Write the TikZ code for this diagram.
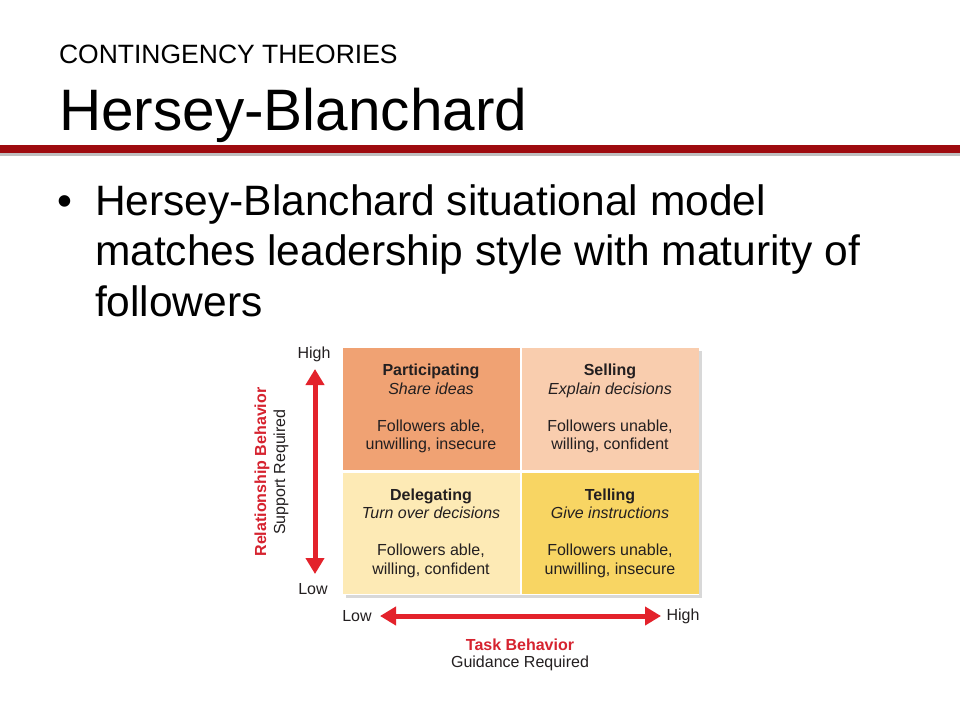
\documentclass[tikz,border=0pt]{standalone}
\usepackage{fontspec}
\setmainfont{Liberation Sans}
\usetikzlibrary{arrows.meta,shadows}
\definecolor{barred}{HTML}{9E0B0F}
\definecolor{arrowred}{HTML}{E3222B}
\definecolor{labred}{HTML}{D6232F}
\definecolor{cPart}{HTML}{F0A273}
\definecolor{cSell}{HTML}{F9CDAE}
\definecolor{cDele}{HTML}{FDEAB5}
\definecolor{cTell}{HTML}{F8D563}
\definecolor{txt}{HTML}{231F20}
\begin{document}
\begin{tikzpicture}[x=1pt,y=-1pt,
  plain/.style={inner sep=0pt,outer sep=0pt,text=black},
  cell/.style={inner sep=0pt,outer sep=0pt,draw=none,minimum width=177pt,minimum height=121.5pt,
     align=center,text=txt,font=\fontsize{16}{18.5}\selectfont},
  axlab/.style={inner sep=0pt,text=txt,font=\fontsize{16}{18}\selectfont},
  redlab/.style={inner sep=0pt,text=labred,font=\fontsize{16}{18}\selectfont\bfseries},
  bigarrow/.style={draw=arrowred,line width=5pt,{Triangle[width=18pt,length=16pt]}-{Triangle[width=18pt,length=16pt]}}]
\useasboundingbox (0,0) rectangle (960,720);
\fill[white] (0,0) rectangle (960,720);
% header
\node[plain,anchor=base west,font=\fontsize{26.5}{30}\selectfont] (cat) at (59,63) {CONTINGENCY THEORIES};
\node[plain,anchor=base west,font=\fontsize{58.5}{64}\selectfont] (title) at (59,130) {Hersey-Blanchard};
\fill[black!25] (0,153) rectangle (960,155.5);
\fill[barred] (0,144.5) rectangle (960,153);
% bullet
\node[plain,anchor=base west,font=\fontsize{42.5}{50.5}\selectfont] (bul) at (57,215) {•};
\node[plain,anchor=base west,align=left,font=\fontsize{42.5}{50.5}\selectfont] (btext) at (95,316)
  {Hersey-Blanchard situational model\\matches leadership style with maturity of\\followers};
% grid background with shadow
\node[inner sep=0pt,outer sep=0pt,minimum width=356pt,minimum height=247pt,fill=white,
  drop shadow={shadow xshift=3pt,shadow yshift=-3pt,opacity=0.3}] (grid) at (521,471.5) {};
\node[cell,fill=cPart] (part) at (431,408.75)
  {\textbf{Participating}\\\textit{Share ideas}\\[18.5pt]Followers able,\\unwilling, insecure};
\node[cell,fill=cSell] (sell) at (610,408.75)
  {\textbf{Selling}\\\textit{Explain decisions}\\[18.5pt]Followers unable,\\willing, confident};
\node[cell,fill=cDele] (dele) at (431,533.25)
  {\textbf{Delegating}\\\textit{Turn over decisions}\\[18.5pt]Followers able,\\willing, confident};
\node[cell,fill=cTell] (tell) at (610,533.25)
  {\textbf{Telling}\\\textit{Give instructions}\\[18.5pt]Followers unable,\\unwilling, insecure};
% vertical axis
\node[axlab] (vhigh) at (314,354) {High};
\node[axlab] (vlow) at (313,589) {Low};
\coordinate (vtop) at (315,369);
\coordinate (vbot) at (315,574);
\draw[bigarrow] (vtop) -- (vbot);
\node[redlab,rotate=90] (rb) at (262,472) {Relationship Behavior};
\node[axlab,rotate=90] (sr) at (281,472) {Support Required};
% horizontal axis
\node[axlab] (hlow) at (357,616) {Low};
\node[axlab] (hhigh) at (683,616) {High};
\coordinate (hl) at (380,616);
\coordinate (hr) at (661,616);
\draw[bigarrow] (hl) -- (hr);
\node[redlab] (tb) at (520,645) {Task Behavior};
\node[axlab] (gr) at (520,663.5) {Guidance Required};
\end{tikzpicture}
\end{document}
